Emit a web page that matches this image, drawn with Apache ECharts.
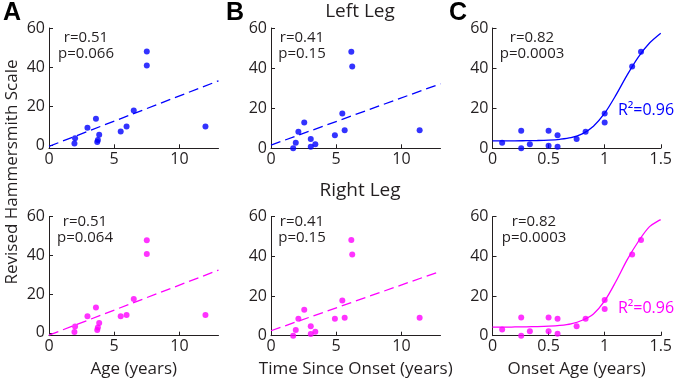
<!DOCTYPE html>
<html>
<head>
<meta charset="utf-8">
<script src="https://cdn.jsdelivr.net/npm/echarts@6/dist/echarts.min.js"></script>
<style>
    html, body {margin: 0; padding: 0; background: #fff;}
    #chart {width: 675px; height: 385px;}
</style>
</head>
<body>
<div id="chart"></div>
<script>
// panel A: age
const ageX = [1.95, 2.0, 2.95, 3.6, 3.7, 3.75, 3.85, 5.5, 5.95, 6.5, 7.5, 7.5, 12.0];
const leftAgeY = [0.9, 3.7, 9.0, 13.6, 1.7, 2.8, 5.4, 7.1, 9.7, 17.8, 48.0, 40.8, 9.7];
const rightAgeY = [0.4, 3.3, 8.6, 13.1, 1.4, 2.8, 5.1, 8.6, 9.2, 17.5, 47.8, 40.7, 9.2];

// panel B: time since onset
const timeX = [1.7, 1.9, 2.1, 2.55, 3.05, 3.05, 3.4, 4.9, 5.47, 5.65, 6.16, 6.23, 11.4];
const leftTimeY = [0, 2.8, 8.3, 12.9, 4.7, 0.8, 2.0, 6.5, 17.4, 9.0, 48.2, 40.8, 9.0];
const rightTimeY = [0, 2.9, 8.5, 13.1, 4.8, 0.9, 2.0, 8.5, 17.8, 9.0, 48.2, 41.0, 9.0];

// panel C: onset age
const onsetX = [0.086, 0.256, 0.256, 0.333, 0.5, 0.5, 0.58, 0.58, 0.75, 0.83, 1.0, 1.0, 1.245, 1.324];
const leftOnsetY = [2.8, 8.8, 0, 2.0, 8.8, 1.3, 6.5, 0.8, 4.7, 8.3, 17.4, 12.9, 40.8, 48.2];
const rightOnsetY = [3.1, 9.2, 0, 2.2, 9.2, 2.2, 8.6, 1.0, 4.8, 8.6, 18.0, 13.4, 41.0, 48.2];

// regression lines (ends at x = 0 and 13)
const fitLineX = [0, 13];
const leftAgeFit = [-0.5, 33];
const rightAgeFit = [-1.2, 32.4];
const leftTimeFit = [1.6, 32.2];
const rightTimeFit = [2.5, 32.5];

// sigmoid fits, every 0.1
const sigX = [0, 0.1, 0.2, 0.3, 0.4, 0.5, 0.6, 0.7, 0.8, 0.9, 1.0, 1.1, 1.2, 1.3, 1.4, 1.5];
const leftSigY = [3.7, 3.7, 3.7, 3.8, 3.9, 4.1, 4.5, 5.3, 7.2, 11.0, 17.5, 26.5, 36.5, 45.5, 52.5, 57.4];
const rightSigY = [4.3, 4.3, 4.4, 4.5, 4.6, 4.8, 5.2, 6.0, 7.8, 11.0, 17.5, 27.3, 38.2, 47.5, 55.0, 58.5];

const yTicks = [0, 20, 40, 60];
const yearTicks = [0, 5, 10];
const onsetTicks = [0, 0.5, 1, 1.5];

const stats = [
    ['r=0.51', 'p=0.066'], ['r=0.41', 'p=0.15'], ['r=0.82', 'p=0.0003'],
    ['r=0.51', 'p=0.064'], ['r=0.41', 'p=0.15'], ['r=0.82', 'p=0.0003']
];

const BLUE = '#0000ff';
const MAGENTA = '#ff00ff';
const INK = '#231f20';
const FONT = 'Open Sans';

const pair = (xs, ys) => xs.map((x, i) => [x, ys[i]]);

const gridLefts = [49, 271, 492.5];
const rows = [{top: 28, height: 120.3}, {top: 216.7, height: 119}];

let grids = [], xAxes = [], yAxes = [], series = [];
rows.forEach((row, r) => {
    gridLefts.forEach((left, c) => {
        const idx = r * 3 + c;
        grids.push({left: left, top: row.top, width: 169.5, height: row.height});
        const onset = c === 2;
        const xt = onset ? onsetTicks : yearTicks;
        xAxes.push({
            gridIndex: idx, type: 'value',
            min: 0, max: onset ? 1.5 : 13,
            axisLine: {show: true, onZero: false, lineStyle: {color: INK, width: 1}},
            axisTick: {inside: true, length: 4, lineStyle: {color: INK}, customValues: xt},
            axisLabel: {fontSize: 16, color: INK, fontFamily: FONT, margin: 3, customValues: xt},
            splitLine: {show: false},
            name: r === 1 ? ['Age (years)', 'Time Since Onset (years)', 'Onset Age (years)'][c] : '',
            nameLocation: 'middle', nameGap: 25,
            nameTextStyle: {fontSize: 17, color: INK, fontFamily: FONT}
        });
        yAxes.push({
            gridIndex: idx, type: 'value',
            min: c === 0 ? -1.5 : 0, max: 60,
            axisLine: {show: true, onZero: false, lineStyle: {color: INK, width: 1}},
            axisTick: {inside: true, length: 4, lineStyle: {color: INK}, customValues: yTicks},
            axisLabel: {fontSize: 16, color: INK, fontFamily: FONT, margin: 4, customValues: yTicks},
            splitLine: {show: false}
        });
    });
});

const color = [BLUE, BLUE, BLUE, MAGENTA, MAGENTA, MAGENTA];
const scatterData = [
    pair(ageX, leftAgeY), pair(timeX, leftTimeY), pair(onsetX, leftOnsetY),
    pair(ageX, rightAgeY), pair(timeX, rightTimeY), pair(onsetX, rightOnsetY)
];
const fitData = [
    pair(fitLineX, leftAgeFit), pair(fitLineX, leftTimeFit), pair(sigX, leftSigY),
    pair(fitLineX, rightAgeFit), pair(fitLineX, rightTimeFit), pair(sigX, rightSigY)
];

for (let i = 0; i < 6; i++) {
    const sig = i % 3 === 2;
    series.push({
        type: 'line', xAxisIndex: i, yAxisIndex: i,
        data: fitData[i], showSymbol: false,
        smooth: sig ? 0.3 : false,
        lineStyle: {color: color[i], width: 1.3, type: sig ? 'solid' : [10, 5]},
        silent: true, z: 1
    });
    series.push({
        type: 'scatter', xAxisIndex: i, yAxisIndex: i,
        data: scatterData[i], symbolSize: 6,
        itemStyle: {color: color[i]}, z: 2
    });
}

// stat labels
const statPos = [[86, 38], [302, 38], [532, 38], [85, 221.5], [302, 221.5], [534, 221.5]];
let graphics = [];
statPos.forEach((p, i) => {
    stats[i].forEach((t, k) => {
        graphics.push({
            type: 'text', x: p[0], y: p[1] + k * 16,
            style: {text: t, fill: INK, font: '15px "' + FONT + '"', textAlign: 'center', textVerticalAlign: 'middle'}
        });
    });
});
[[646, 110, BLUE], [646, 308, MAGENTA]].forEach(p => {
    graphics.push({
        type: 'text', x: p[0], y: p[1],
        style: {text: 'R²=0.96', fill: p[2], font: '16px "' + FONT + '"', textAlign: 'center', textVerticalAlign: 'middle'}
    });
});
[['A', 3], ['B', 226], ['C', 449]].forEach(l => {
    graphics.push({
        type: 'text', x: l[1], y: 1,
        style: {text: l[0], fill: '#000', font: 'bold 25px "Liberation Sans"', textAlign: 'left', textVerticalAlign: 'top'}
    });
});
graphics.push({
    type: 'text', x: 360, y: 12,
    style: {text: 'Left Leg', fill: INK, font: '19px "' + FONT + '"', textAlign: 'center', textVerticalAlign: 'middle'}
});
graphics.push({
    type: 'text', x: 360, y: 191,
    style: {text: 'Right Leg', fill: INK, font: '19px "' + FONT + '"', textAlign: 'center', textVerticalAlign: 'middle'}
});
graphics.push({
    type: 'text', x: 12, y: 172, rotation: Math.PI / 2,
    style: {text: 'Revised Hammersmith Scale', fill: INK, font: '17px "' + FONT + '"', textAlign: 'center', textVerticalAlign: 'middle'}
});

const chart = echarts.init(document.getElementById('chart'));
chart.setOption({
    animation: false,
    backgroundColor: '#fff',
    grid: grids,
    xAxis: xAxes,
    yAxis: yAxes,
    series: series,
    graphic: graphics
});
</script>
</body>
</html>
